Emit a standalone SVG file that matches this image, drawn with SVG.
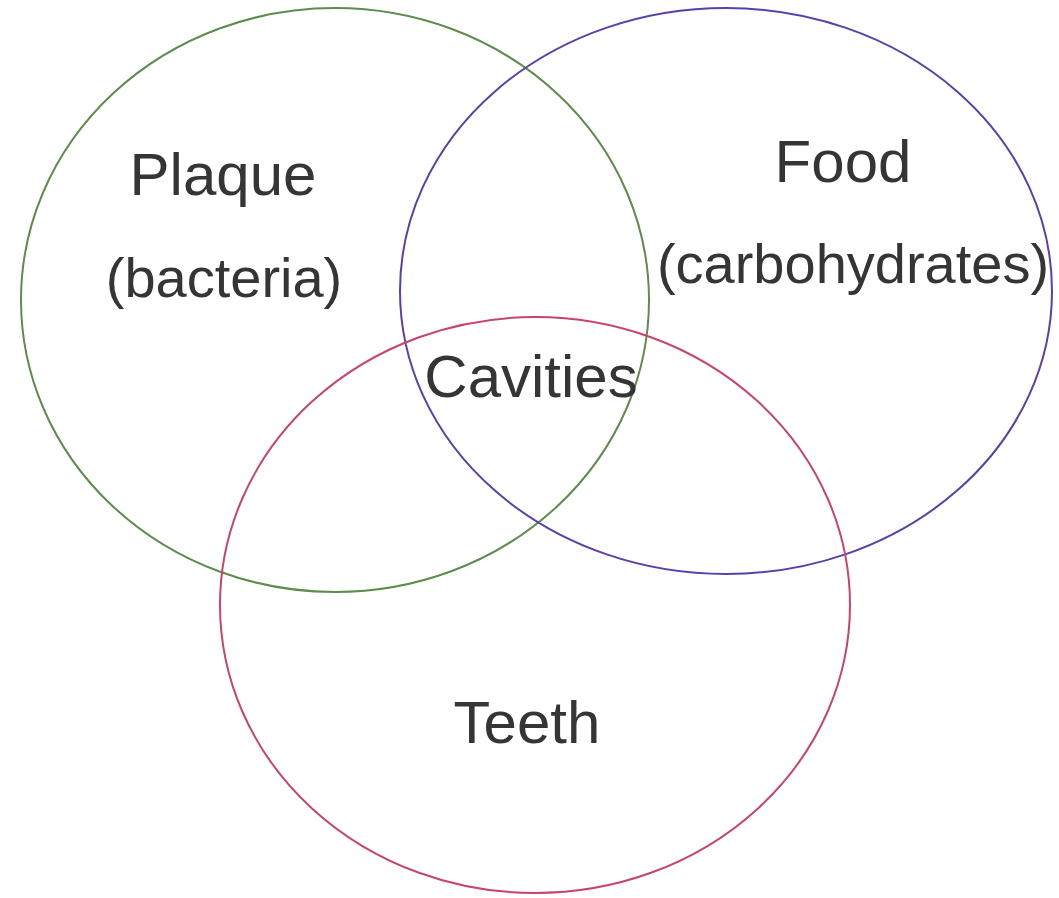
<svg xmlns="http://www.w3.org/2000/svg" width="1059" height="898" viewBox="0 0 1059 898">
<style>
.c{fill:none;stroke-width:2}
.t{font-family:"Liberation Sans",Arial,sans-serif;fill:#353535;text-anchor:middle}
.big{font-size:60px}
.sm{font-size:56px}
</style>
<rect width="1059" height="898" fill="#fff"/>
<g id="plaque">
<ellipse class="c" cx="335" cy="300" rx="314" ry="292" stroke="#5e8c4c"/>
<text class="t big" x="223" y="195">Plaque</text>
<text class="t sm" x="224" y="297">(bacteria)</text>
</g>
<g id="food">
<ellipse class="c" cx="726" cy="291" rx="326" ry="283" stroke="#5a40a8"/>
<text class="t big" x="843" y="182">Food</text>
<text class="t sm" x="853" y="283">(carbohydrates)</text>
</g>
<g id="teeth">
<ellipse class="c" cx="535" cy="605" rx="315" ry="288" stroke="#c84470"/>
<text class="t big" x="527" y="743">Teeth</text>
</g>
<g id="cavities">
<text class="t big" x="531" y="397">Cavities</text>
</g>
<g id="connectors"></g>
</svg>
